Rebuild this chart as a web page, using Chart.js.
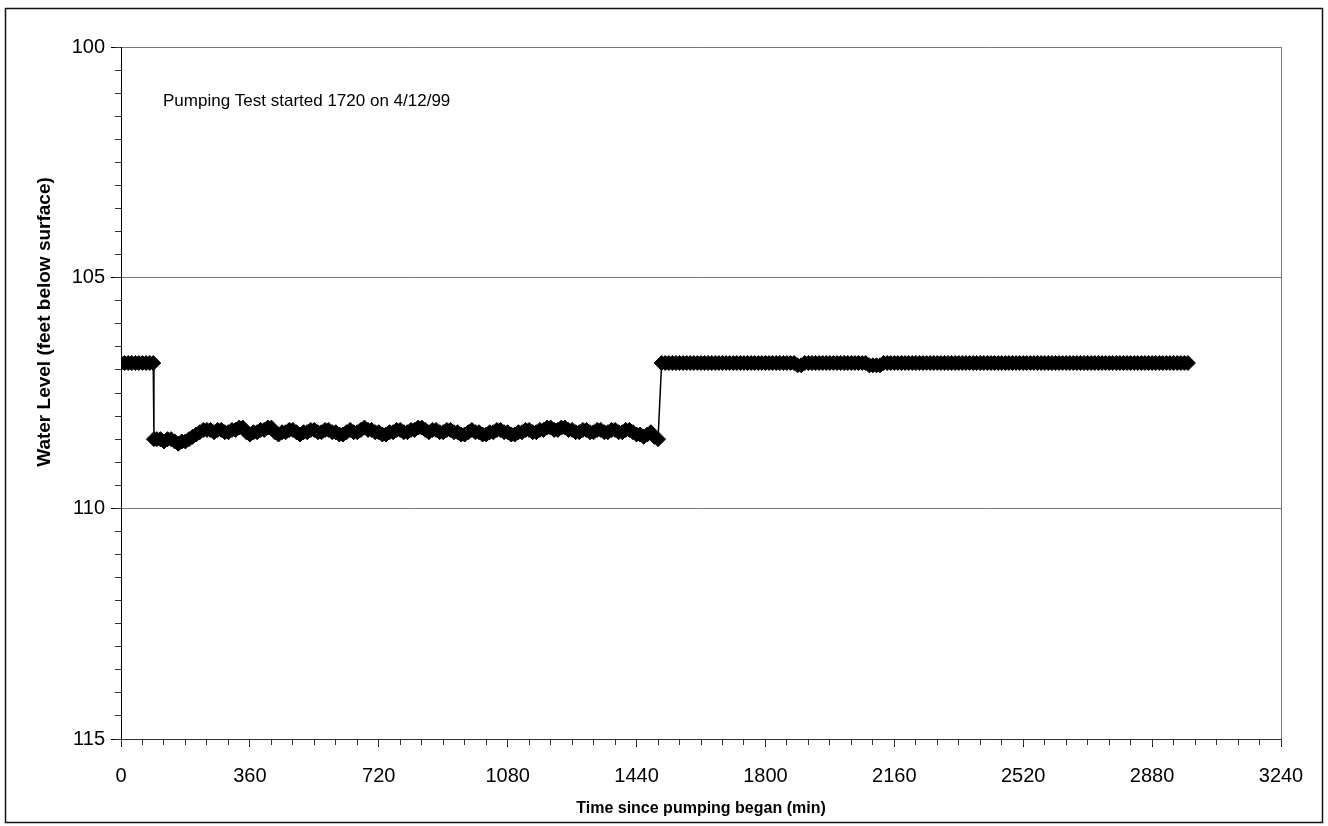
<!DOCTYPE html>
<html lang="en">
<head>
    <meta charset="UTF-8">
    <title>Pumping Test - Water Level</title>
    <script src="https://cdn.jsdelivr.net/npm/chart.js"></script>
    <style>
        body {
            margin: 0;
            background: #fff;
        }
        #wrap {
            width: 1328px;
            height: 826px;
        }
    </style>
</head>
<body>
    <div id="wrap">
        <canvas id="levelChart" width="1328" height="826"></canvas>
    </div>
    <script>
        // water level readings (feet below surface) vs minutes since pumping began
        const staticMin = [0, 10, 20, 30, 40, 50, 60, 70, 80, 90];
        const staticLevel = [106.85, 106.85, 106.85, 106.85, 106.85, 106.85, 106.85, 106.85, 106.85, 106.85];

        const pumpMin = [92,
            100, 110, 120, 130, 140, 150, 160, 170, 180, 190,
            200, 210, 220, 230, 240, 250, 260, 270, 280, 290,
            300, 310, 320, 330, 340, 350, 360, 370, 380, 390,
            400, 410, 420, 430, 440, 450, 460, 470, 480, 490,
            500, 510, 520, 530, 540, 550, 560, 570, 580, 590,
            600, 610, 620, 630, 640, 650, 660, 670, 680, 690,
            700, 710, 720, 730, 740, 750, 760, 770, 780, 790,
            800, 810, 820, 830, 840, 850, 860, 870, 880, 890,
            900, 910, 920, 930, 940, 950, 960, 970, 980, 990,
            1000, 1010, 1020, 1030, 1040, 1050, 1060, 1070, 1080, 1090,
            1100, 1110, 1120, 1130, 1140, 1150, 1160, 1170, 1180, 1190,
            1200, 1210, 1220, 1230, 1240, 1250, 1260, 1270, 1280, 1290,
            1300, 1310, 1320, 1330, 1340, 1350, 1360, 1370, 1380, 1390,
            1400, 1410, 1420, 1430, 1440, 1450, 1460, 1470, 1480, 1490,
            1500];
        const pumpLevel = [108.5,
            108.5, 108.5, 108.55, 108.5, 108.5, 108.55, 108.6, 108.55, 108.55, 108.5,
            108.45, 108.4, 108.35, 108.3, 108.3, 108.3, 108.35, 108.3, 108.3, 108.35,
            108.35, 108.3, 108.3, 108.25, 108.25, 108.35, 108.4, 108.35, 108.35, 108.3,
            108.3, 108.25, 108.25, 108.35, 108.4, 108.35, 108.35, 108.3, 108.3, 108.35,
            108.4, 108.35, 108.35, 108.3, 108.3, 108.35, 108.35, 108.3, 108.3, 108.35,
            108.35, 108.4, 108.4, 108.35, 108.3, 108.35, 108.35, 108.3, 108.25, 108.3,
            108.3, 108.35, 108.35, 108.4, 108.4, 108.35, 108.35, 108.3, 108.3, 108.35,
            108.35, 108.3, 108.3, 108.25, 108.25, 108.3, 108.35, 108.3, 108.3, 108.35,
            108.35, 108.3, 108.3, 108.35, 108.35, 108.4, 108.4, 108.35, 108.3, 108.35,
            108.35, 108.4, 108.4, 108.35, 108.35, 108.3, 108.3, 108.35, 108.35, 108.4,
            108.4, 108.35, 108.35, 108.3, 108.3, 108.35, 108.35, 108.3, 108.3, 108.25,
            108.25, 108.3, 108.3, 108.25, 108.25, 108.3, 108.3, 108.35, 108.35, 108.3,
            108.3, 108.35, 108.35, 108.3, 108.3, 108.35, 108.35, 108.3, 108.3, 108.35,
            108.35, 108.3, 108.3, 108.35, 108.4, 108.4, 108.45, 108.4, 108.35, 108.45,
            108.5];

        const recoveryMin = [1510, 1520, 1530, 1540, 1550, 1560, 1570, 1580, 1590,
            1600, 1610, 1620, 1630, 1640, 1650, 1660, 1670, 1680, 1690,
            1700, 1710, 1720, 1730, 1740, 1750, 1760, 1770, 1780, 1790,
            1800, 1810, 1820, 1830, 1840, 1850, 1860, 1870, 1880, 1890,
            1900, 1910, 1920, 1930, 1940, 1950, 1960, 1970, 1980, 1990,
            2000, 2010, 2020, 2030, 2040, 2050, 2060, 2070, 2080, 2090,
            2100, 2110, 2120, 2130, 2140, 2150, 2160, 2170, 2180, 2190,
            2200, 2210, 2220, 2230, 2240, 2250, 2260, 2270, 2280, 2290,
            2300, 2310, 2320, 2330, 2340, 2350, 2360, 2370, 2380, 2390,
            2400, 2410, 2420, 2430, 2440, 2450, 2460, 2470, 2480, 2490,
            2500, 2510, 2520, 2530, 2540, 2550, 2560, 2570, 2580, 2590,
            2600, 2610, 2620, 2630, 2640, 2650, 2660, 2670, 2680, 2690,
            2700, 2710, 2720, 2730, 2740, 2750, 2760, 2770, 2780, 2790,
            2800, 2810, 2820, 2830, 2840, 2850, 2860, 2870, 2880, 2890,
            2900, 2910, 2920, 2930, 2940, 2950, 2960, 2970, 2980];
        const recoveryLevel = [106.85, 106.85, 106.85, 106.85, 106.85, 106.85, 106.85, 106.85, 106.85,
            106.85, 106.85, 106.85, 106.85, 106.85, 106.85, 106.85, 106.85, 106.85, 106.85,
            106.85, 106.85, 106.85, 106.85, 106.85, 106.85, 106.85, 106.85, 106.85, 106.85,
            106.85, 106.85, 106.85, 106.85, 106.85, 106.85, 106.85, 106.85, 106.85, 106.9,
            106.9, 106.85, 106.85, 106.85, 106.85, 106.85, 106.85, 106.85, 106.85, 106.85,
            106.85, 106.85, 106.85, 106.85, 106.85, 106.85, 106.85, 106.85, 106.85, 106.9,
            106.9, 106.9, 106.9, 106.85, 106.85, 106.85, 106.85, 106.85, 106.85, 106.85,
            106.85, 106.85, 106.85, 106.85, 106.85, 106.85, 106.85, 106.85, 106.85, 106.85,
            106.85, 106.85, 106.85, 106.85, 106.85, 106.85, 106.85, 106.85, 106.85, 106.85,
            106.85, 106.85, 106.85, 106.85, 106.85, 106.85, 106.85, 106.85, 106.85, 106.85,
            106.85, 106.85, 106.85, 106.85, 106.85, 106.85, 106.85, 106.85, 106.85, 106.85,
            106.85, 106.85, 106.85, 106.85, 106.85, 106.85, 106.85, 106.85, 106.85, 106.85,
            106.85, 106.85, 106.85, 106.85, 106.85, 106.85, 106.85, 106.85, 106.85, 106.85,
            106.85, 106.85, 106.85, 106.85, 106.85, 106.85, 106.85, 106.85, 106.85, 106.85,
            106.85, 106.85, 106.85, 106.85, 106.85, 106.85, 106.85, 106.85, 106.85];

        const xTicks = [0, 360, 720, 1080, 1440, 1800, 2160, 2520, 2880, 3240];
        const yTicks = [100, 105, 110, 115];
        const noteText = 'Pumping Test started 1720 on 4/12/99';
        const yTitle = 'Water Level (feet below surface)';

        const allMin = staticMin.concat(pumpMin, recoveryMin);
        const allLevel = staticLevel.concat(pumpLevel, recoveryLevel);
        const points = allMin.map((m, i) => ({ x: m, y: allLevel[i] }));

        const FONT = '"Liberation Sans", Arial, sans-serif';

        // outer frame, right border of the plot, note text and y title
        const decor = {
            id: 'decor',
            afterDraw(chart) {
                const ctx = chart.ctx;
                const a = chart.chartArea;
                ctx.save();
                ctx.strokeStyle = '#111';
                ctx.lineWidth = 1.5;
                ctx.strokeRect(5.5, 8.5, 1317, 814);
                ctx.strokeStyle = '#777';
                ctx.lineWidth = 1;
                ctx.beginPath();
                ctx.moveTo(a.right + 0.5, a.top);
                ctx.lineTo(a.right + 0.5, a.bottom);
                ctx.stroke();
                ctx.fillStyle = '#000';
                ctx.font = '17px ' + FONT;
                ctx.textBaseline = 'middle';
                ctx.fillText(noteText, a.left + 42, a.top + 54);
                ctx.translate(45, 322);
                ctx.rotate(-Math.PI / 2);
                ctx.font = 'bold 19px ' + FONT;
                ctx.textAlign = 'center';
                ctx.fillText(yTitle, 0, 0);
                ctx.restore();
            }
        };

        new Chart(document.getElementById('levelChart'), {
            type: 'line',
            data: {
                datasets: [{
                    label: 'Water Level',
                    data: points,
                    borderColor: '#000',
                    borderWidth: 1.5,
                    backgroundColor: '#000',
                    pointStyle: 'rectRot',
                    pointRadius: 7.5,
                    pointBorderWidth: 1,
                    pointBackgroundColor: '#000',
                    pointBorderColor: '#000',
                    tension: 0
                }]
            },
            options: {
                responsive: false,
                animation: false,
                layout: { padding: { left: 0, top: 47, right: 47, bottom: 0 } },
                plugins: {
                    legend: { display: false },
                    tooltip: { enabled: false }
                },
                scales: {
                    x: {
                        type: 'linear',
                        position: 'bottom',
                        weight: 1,
                        min: 0,
                        max: 3240,
                        afterBuildTicks: s => { s.ticks = xTicks.map(v => ({ value: v })); },
                        afterFit: s => { s.height = 87; },
                        ticks: {
                            autoSkip: false,
                            maxRotation: 0,
                            padding: 17,
                            color: '#000',
                            font: { family: FONT, size: 20 },
                            callback: v => String(v)
                        },
                        grid: { drawOnChartArea: false, tickLength: 8, tickColor: '#000' },
                        border: { color: '#333', width: 1 },
                        title: {
                            display: true,
                            text: 'Time since pumping began (min)',
                            color: '#000',
                            font: { family: FONT, size: 16, weight: 'bold' },
                            padding: { top: 4, bottom: 8 }
                        }
                    },
                    xMinor: {
                        type: 'linear',
                        position: 'bottom',
                        weight: 0,
                        min: 0,
                        max: 3240,
                        afterFit: s => { s.height = 0; },
                        ticks: { display: false, stepSize: 60, autoSkip: false },
                        grid: { drawOnChartArea: false, tickLength: 6, tickColor: '#333' },
                        border: { display: false }
                    },
                    y: {
                        type: 'linear',
                        position: 'left',
                        weight: 1,
                        reverse: true,
                        min: 100,
                        max: 115,
                        afterBuildTicks: s => { s.ticks = yTicks.map(v => ({ value: v })); },
                        afterFit: s => { s.width = 121; },
                        ticks: {
                            padding: 6,
                            color: '#000',
                            font: { family: FONT, size: 20 }
                        },
                        grid: { color: '#777', lineWidth: 1, tickLength: 10, tickColor: '#000' },
                        border: { color: '#000', width: 1 }
                    },
                    yMinor: {
                        type: 'linear',
                        position: 'left',
                        weight: 0,
                        reverse: true,
                        min: 100,
                        max: 115,
                        afterFit: s => { s.width = 0; },
                        ticks: { display: false, stepSize: 0.5, autoSkip: false },
                        grid: { drawOnChartArea: false, tickLength: 6, tickColor: '#333' },
                        border: { display: false }
                    }
                }
            },
            plugins: [decor]
        });
    </script>
</body>
</html>
